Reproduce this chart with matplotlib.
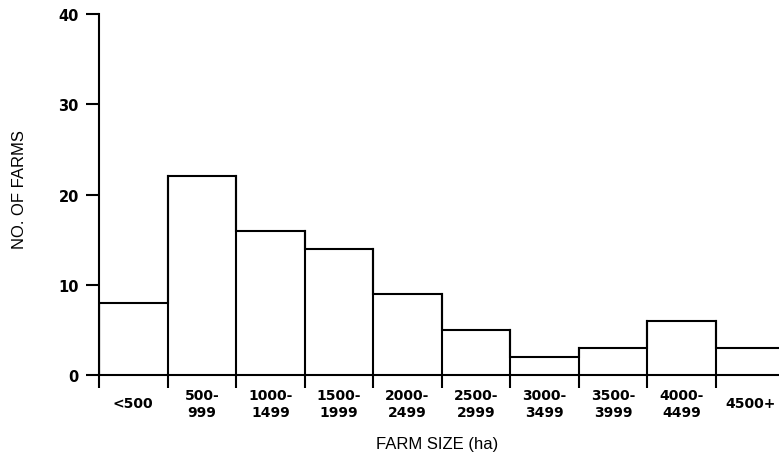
import matplotlib.pyplot as plt
import numpy as np

size_classes = ["<500", "500-\n999", "1000-\n1499", "1500-\n1999", "2000-\n2499",
                "2500-\n2999", "3000-\n3499", "3500-\n3999", "4000-\n4499", "4500+"]
farm_counts = [8, 22, 16, 14, 9, 5, 2, 3, 6, 3]
y_ticks = [0, 10, 20, 30, 40]

plt.rcParams["font.family"] = ["Liberation Sans", "DejaVu Sans"]
narrow = ["Liberation Sans Narrow", "DejaVu Sans"]

fig = plt.figure(figsize=(7.79, 4.60), dpi=100)
ax = fig.add_axes([99 / 779, 1 - 376 / 460, 1 - 99 / 779, (376 - 15) / 460])

edges = np.arange(len(farm_counts) + 1)
ax.stairs(farm_counts, edges, color="black", linewidth=1.5)
# vertical lines between bars down to the baseline
for i, c in enumerate(farm_counts):
    ax.plot([i, i], [0, max(c, farm_counts[i - 1] if i > 0 else c)], color="black", lw=1.5)

ax.set_xlim(0, 9.92)
ax.set_ylim(0, 40)

for s in ["top", "right"]:
    ax.spines[s].set_visible(False)
ax.spines["left"].set_linewidth(1.5)
ax.spines["bottom"].set_linewidth(1.5)

ax.set_yticks(y_ticks)
ax.tick_params(axis="y", direction="out", length=9.5, width=1.5, pad=5, labelsize=10.5)

ax.set_xticks(edges[:-1])
ax.set_xticklabels([])
ax.tick_params(axis="x", which="major", direction="out", length=9, width=1.5)
ax.set_xticks(edges[:-1] + 0.5, minor=True)
ax.set_xticklabels(size_classes, minor=True, fontsize=10, linespacing=1.2,
                   family=narrow, fontweight="bold")
ax.tick_params(axis="x", which="minor", length=0, pad=20.5)
for lbl in ax.get_xticklabels(minor=True):
    lbl.set_verticalalignment("center")

for lbl in ax.get_yticklabels():
    lbl.set_family(narrow)
    lbl.set_fontweight("bold")

fig.text(437 / 779, 1 - 445 / 460, "FARM SIZE (ha)", ha="center", va="center", fontsize=12)
fig.text(20 / 779, 1 - 190 / 460, "NO. OF FARMS", ha="center", va="center",
         rotation=90, fontsize=12)

fig.savefig("out.png", dpi=100)
